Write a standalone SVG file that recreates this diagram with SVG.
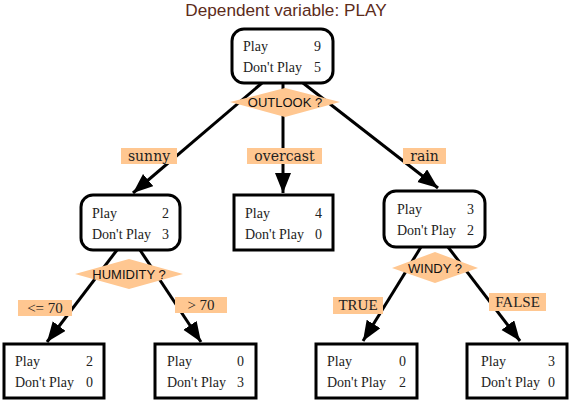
<svg xmlns="http://www.w3.org/2000/svg" width="572" height="401" viewBox="0 0 572 401">
<style>
.box{fill:#fff;stroke:#000;stroke-width:3}
.t{font-family:"Liberation Serif","Times New Roman",serif;font-size:14px;fill:#222}
.n{font-family:"Liberation Serif","Times New Roman",serif;font-size:14px;fill:#222;text-anchor:end}
.lbl{fill:#ffc791}
.lt{font-family:"DejaVu Serif",serif;font-size:14px;fill:#222;text-anchor:middle}
.lc{font-family:"Liberation Serif","Times New Roman",serif;font-size:15px;fill:#222;text-anchor:middle}
.dia{fill:#ffc791}
.dt{font-family:"Liberation Sans",Arial,sans-serif;font-size:13px;fill:#111;text-anchor:middle}
.edge{stroke:#000;stroke-width:3;fill:none;marker-end:url(#ah)}
</style>
<defs>
<marker id="ah" markerUnits="userSpaceOnUse" markerWidth="22" markerHeight="18" refX="20" refY="8" orient="auto">
<path d="M0,0 L20,8 L0,16 Z" fill="#000"/>
</marker>
</defs>
<rect width="572" height="401" fill="#fff"/>
<text x="286" y="16" font-family="Liberation Sans,Arial,sans-serif" font-size="17.2" fill="#5c2b1a" text-anchor="middle">Dependent variable: PLAY</text>

<g id="connectors">
<path class="edge" d="M262,83 L133,193"/>
<path class="edge" d="M283,83 L283,193"/>
<path class="edge" d="M303,83 L438,188"/>
<path class="edge" d="M117,250 L47,342"/>
<path class="edge" d="M140,250 L201,342"/>
<path class="edge" d="M421,247 L363,341"/>
<path class="edge" d="M448,247 L520,341"/>
<g id="edge-labels">
<rect class="lbl" x="121" y="148" width="56" height="16"/>
<text class="lt" x="149" y="161">sunny</text>
<rect class="lbl" x="247" y="148" width="75" height="16"/>
<text class="lt" x="284.5" y="161">overcast</text>
<rect class="lbl" x="403" y="148" width="43" height="16"/>
<text class="lt" x="424.5" y="161">rain</text>
<rect class="lbl" x="18" y="300" width="54" height="16"/>
<text class="lc" x="45" y="313">&lt;= 70</text>
<rect class="lbl" x="175" y="297" width="52" height="16"/>
<text class="lc" x="201" y="310">&gt; 70</text>
<rect class="lbl" x="333" y="297" width="50" height="17"/>
<text class="lc" x="358" y="310" font-size="14">TRUE</text>
<rect class="lbl" x="489" y="293" width="57" height="18"/>
<text class="lc" x="517.5" y="307" font-size="14">FALSE</text>
</g>
</g>

<g id="root">
<rect class="box" x="232" y="29" width="101" height="54" rx="12"/>
<text class="t" x="243" y="51">Play</text>
<text class="n" x="321" y="51">9</text>
<text class="t" x="243" y="72">Don't Play</text>
<text class="n" x="321" y="72">5</text>
</g>
<g id="outlook">
<polygon class="dia" points="230,102 285,88 340,102 285,117"/>
<text class="dt" x="285" y="107">OUTLOOK ?</text>
</g>

<g id="sunny-node">
<rect class="box" x="81" y="195" width="99" height="55" rx="12"/>
<text class="t" x="92" y="218">Play</text>
<text class="n" x="169" y="218">2</text>
<text class="t" x="92" y="239">Don't Play</text>
<text class="n" x="169" y="239">3</text>
</g>
<g id="humidity">
<polygon class="dia" points="75,274 129,259 183,274 129,289"/>
<text class="dt" x="129" y="279">HUMIDITY ?</text>
</g>

<g id="overcast-node">
<rect class="box" x="234" y="195" width="99" height="55"/>
<text class="t" x="245" y="218">Play</text>
<text class="n" x="322" y="218">4</text>
<text class="t" x="245" y="239">Don't Play</text>
<text class="n" x="322" y="239">0</text>
</g>

<g id="rain-node">
<rect class="box" x="384" y="191" width="101" height="56" rx="12"/>
<text class="t" x="397" y="214">Play</text>
<text class="n" x="474" y="214">3</text>
<text class="t" x="397" y="235">Don't Play</text>
<text class="n" x="474" y="235">2</text>
</g>
<g id="windy">
<polygon class="dia" points="392,268 435,252 478,268 435,283"/>
<text class="dt" x="435" y="273">WINDY ?</text>
</g>

<g id="leaf-1">
<rect class="box" x="4" y="344" width="100" height="54"/>
<text class="t" x="15" y="366">Play</text>
<text class="n" x="93" y="366">2</text>
<text class="t" x="15" y="387">Don't Play</text>
<text class="n" x="93" y="387">0</text>
</g>
<g id="leaf-2">
<rect class="box" x="155" y="344" width="101" height="54"/>
<text class="t" x="167" y="366">Play</text>
<text class="n" x="244" y="366">0</text>
<text class="t" x="167" y="387">Don't Play</text>
<text class="n" x="244" y="387">3</text>
</g>
<g id="leaf-3">
<rect class="box" x="316" y="344" width="101" height="54"/>
<text class="t" x="327" y="366">Play</text>
<text class="n" x="406" y="366">0</text>
<text class="t" x="327" y="387">Don't Play</text>
<text class="n" x="406" y="387">2</text>
</g>
<g id="leaf-4">
<rect class="box" x="467" y="344" width="100" height="54"/>
<text class="t" x="481" y="366">Play</text>
<text class="n" x="555" y="366">3</text>
<text class="t" x="481" y="387">Don't Play</text>
<text class="n" x="555" y="387">0</text>
</g>
</svg>
